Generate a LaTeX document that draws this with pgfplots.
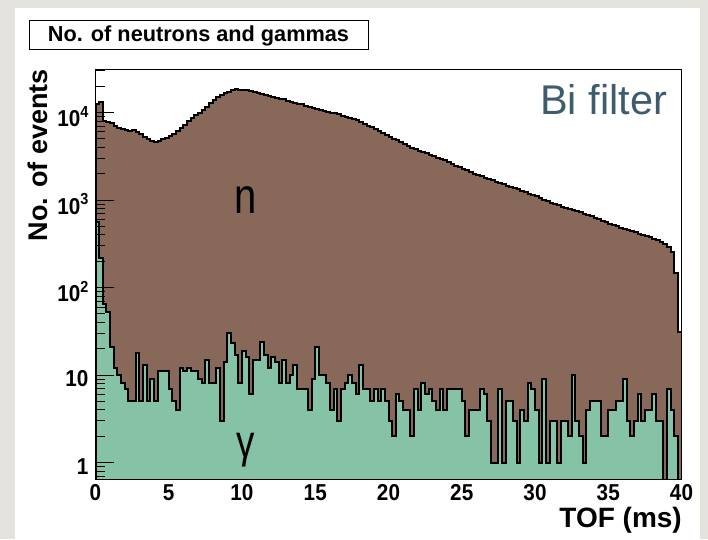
\documentclass[border=0pt]{standalone}
\usepackage{fontspec}
\setmainfont{Liberation Sans}
\newfontfamily\tickfont{Liberation Sans}[FakeStretch=0.9]
\newfontfamily\tallfont{Liberation Sans}[FakeStretch=0.80]
\usepackage{pgfplots}
\usepackage{pgfplotstable}
\pgfplotsset{compat=1.18}

\definecolor{bgmarble}{RGB}{228,227,221}
\definecolor{nbrown}{RGB}{135,104,89}
\definecolor{ggreen}{RGB}{134,194,166}
\definecolor{bilabel}{RGB}{62,92,108}

% TOF histogram, 0.25 ms bins; columns: bin low edge, neutrons, gammas
% (empty bins are stored as 0.1 so that they drop below the log axis)
\pgfplotstableread{
t n g
0 0.1 0.1
0.00 12600 560
0.25 13200 216
0.50 7900 64
0.75 7700 52
1.00 7500 21
1.25 7100 12
1.50 6700 10
1.75 6400 8
2.00 6250 7
2.25 6200 5
2.50 6300 5
2.75 6000 18
3.00 5700 5
3.25 5300 13
3.50 5000 5
3.75 4750 9
4.00 4600 5
4.25 4750 11
4.50 4950 11
4.75 5100 11
5.00 5400 7
5.25 5750 5
5.50 6200 4
5.75 6600 12
6.00 7200 11
6.25 7900 12
6.50 8700 11
6.75 9300 11
7.00 9900 9
7.25 10600 8
7.50 11500 15
7.75 12800 8
8.00 14000 8
8.25 15000 12
8.50 15900 3
8.75 16600 14
9.00 17300 30
9.25 17900 23
9.50 18400 17
9.75 18200 8
10.00 17900 19
10.25 18000 16
10.50 17600 6
10.75 17200 15
11.00 16700 15
11.25 16100 24
11.50 15900 17
11.75 15400 12
12.00 15100 16
12.25 14700 14
12.50 14400 8
12.75 14200 15
13.00 13600 8
13.25 13300 10
13.50 13000 13
13.75 12600 7
14.00 12400 7
14.25 11900 7
14.50 11500 4
14.75 11300 9
15.00 11000 21
15.25 10700 10
15.50 10500 10
15.75 10100 8
16.00 9900 4
16.25 9750 7
16.50 9500 3
16.75 9200 7
17.00 8950 8
17.25 8700 10
17.50 8400 8
17.75 8100 6
18.00 7800 13
18.25 7400 7
18.50 7100 7
18.75 6800 5
19.00 6500 7
19.25 6200 5
19.50 5800 7
19.75 5500 5
20.00 5250 3
20.25 5000 2
20.50 4800 6
20.75 4550 5
21.00 4350 4
21.25 4150 4
21.50 3950 2
21.75 3820 7
22.00 3650 4
22.25 3500 8
22.50 3400 6
22.75 3300 7
23.00 3150 5
23.25 3000 4
23.50 2920 7
23.75 2830 4
24.00 2700 7
24.25 2600 7
24.50 2460 7
24.75 2360 7
25.00 2260 5
25.25 2190 2
25.50 2100 4
25.75 2000 4
26.00 1930 4
26.25 1860 7
26.50 1800 6
26.75 1740 3
27.00 1690 1
27.25 1620 1
27.50 1565 7
27.75 1530 1
28.00 1460 5
28.25 1410 5
28.50 1370 3
28.75 1320 1
29.00 1280 4
29.25 1235 3
29.50 1180 8
29.75 1140 7
30.00 1100 4
30.25 1065 1
30.50 1010 9
30.75 975 1
31.00 930 3
31.25 895 3
31.50 870 1
31.75 840 3
32.00 815 3
32.25 790 2
32.50 770 10
32.75 745 3
33.00 720 2
33.25 690 1
33.50 672 4
33.75 650 5
34.00 628 5
34.25 600 5
34.50 578 2
34.75 556 2
35.00 532 4
35.25 518 4
35.50 500 5
35.75 482 5
36.00 468 9
36.25 455 3
36.50 440 2
36.75 428 3
37.00 412 6
37.25 402 3
37.50 388 4
37.75 378 4
38.00 360 6
38.25 345 3
38.50 332 3
38.75 316 0.1
39.00 288 7
39.25 255 4
39.50 148 2
39.75 31 0.1
40 0.1 0.1
}\tofhist

\begin{document}
\begin{tikzpicture}[x=1pt,y=1pt]
% page: marble backdrop and white card
\fill[bgmarble] (0,0) rectangle (708,539);
\fill[white] (15,0) rectangle (700,531);

\begin{axis}[
  at={(95.5pt,60pt)}, anchor=south west,
  scale only axis, width=586pt, height=410pt,
  xmin=0, xmax=40,
  ymode=log, ymin=0.648, ymax=31400,
  log origin=infty,
  axis on top,
  axis line style={black, line width=0.8pt},
  xtick={0,5,...,40},
  xticklabels={0,5,10,15,20,25,30,35,40},
  xtick style={draw=none},
  ytick={1,10,100,1000,10000},
  yticklabels={1,10,{10\raisebox{0.42em}{\fontsize{16}{16}\selectfont 2}},{10\raisebox{0.42em}{\fontsize{16}{16}\selectfont 3}},{10\raisebox{0.42em}{\fontsize{16}{16}\selectfont 4}}},
  minor ytick={0.7,0.8,0.9,2,3,4,5,6,7,8,9,20,30,40,50,60,70,80,90,200,300,400,500,600,700,800,900,2000,3000,4000,5000,6000,7000,8000,9000,20000,30000},
  ytick pos=left,
  tick align=inside,
  major tick length=18pt,
  minor tick length=9pt,
  ytick style={black, line width=0.8pt},
  xticklabel style={font=\fontsize{23}{26}\selectfont\tickfont\bfseries, inner sep=0pt, anchor=north, yshift=-5pt},
  yticklabel style={font=\fontsize{23}{26}\selectfont\tickfont\bfseries, inner sep=0pt, anchor=east, xshift=-7pt, yshift=-4pt},
]
\addplot[const plot, fill=nbrown, draw=black, line width=2pt] table[x=t, y=n] {\tofhist} -- cycle;
\addplot[const plot, fill=ggreen, draw=black, line width=2pt] table[x=t, y=g] {\tofhist} -- cycle;
\end{axis}

% titles and annotations
\node[draw=black, line width=1pt, minimum width=339pt, minimum height=29pt, inner sep=0pt]
  at (198.5,503.5) {\fontsize{21.7}{24}\selectfont\bfseries No. of neutrons and gammas};
\node[rotate=90, inner sep=0pt] at (37.5,384) {\fontsize{27}{30}\selectfont\bfseries No. of events};
\node[anchor=base east, inner sep=0pt] at (682,12) {\fontsize{28}{31}\selectfont\bfseries TOF (ms)};
\node[anchor=base west, text=bilabel, inner sep=0pt] at (540,424) {\fontsize{41.5}{46}\selectfont Bi filter};
\node[anchor=base, inner sep=0pt] at (246,326) {\fontsize{50}{56}\selectfont\tallfont n};
\node[anchor=base, inner sep=0pt] at (246,82) {\fontsize{46}{50}\selectfont\tallfont γ};
\end{tikzpicture}
\end{document}
